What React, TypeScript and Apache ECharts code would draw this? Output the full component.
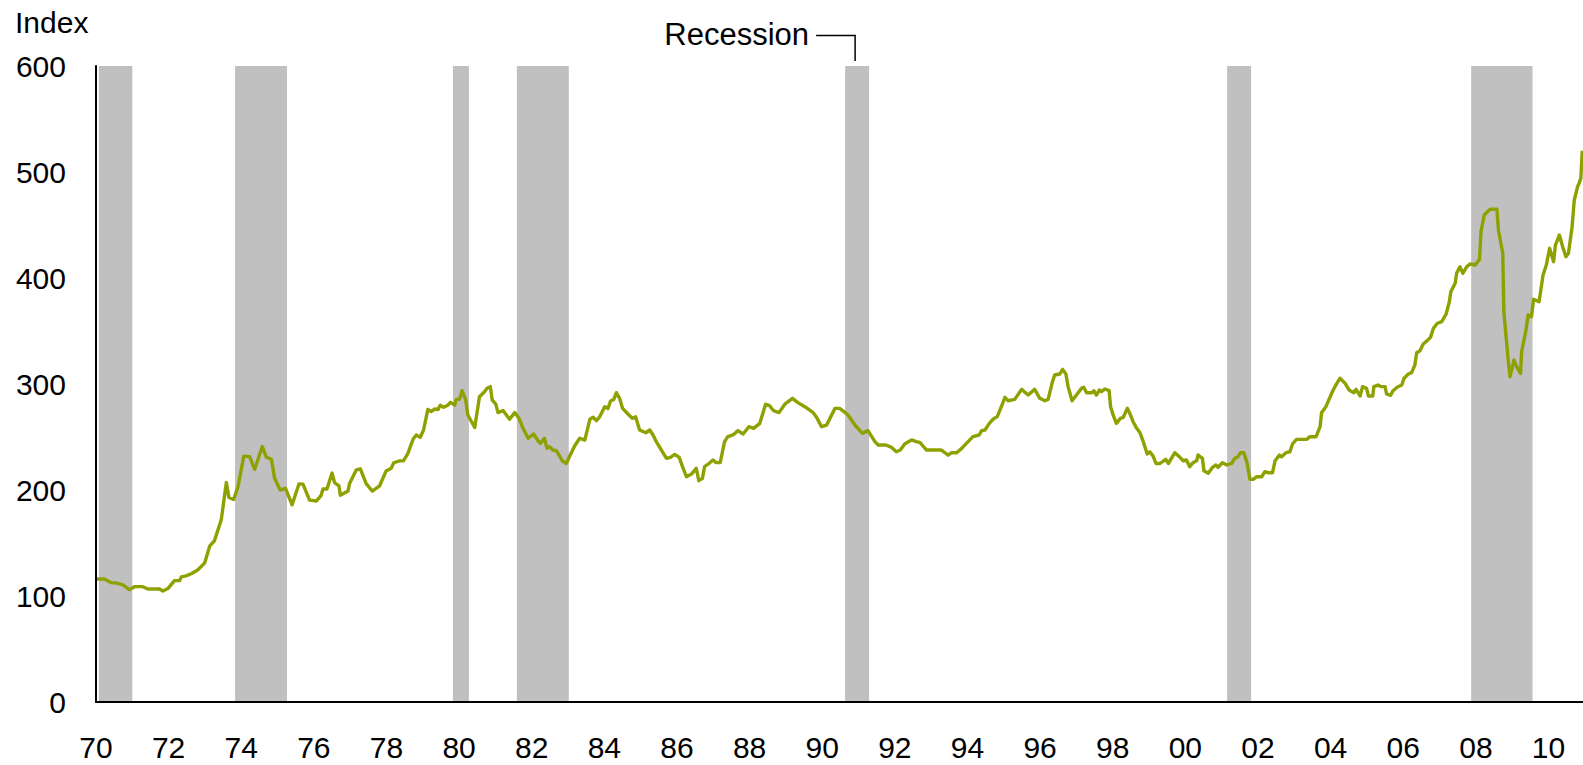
import React, { useEffect, useRef } from "react";
import * as echarts from "echarts";

// Decimal year of each reading, and the index value at that point
const years: number[] = [
  1970.0, 1970.23, 1970.42, 1970.6, 1970.74, 1970.92, 1971.06, 1971.29, 1971.43, 1971.75, 1971.84, 1971.98,
  1972.16, 1972.3, 1972.35, 1972.48, 1972.62, 1972.8, 1972.99, 1973.13, 1973.26, 1973.45, 1973.59, 1973.66,
  1973.79, 1973.91, 1974.07, 1974.23, 1974.37, 1974.58, 1974.69, 1974.83, 1974.92, 1975.07, 1975.22, 1975.4,
  1975.59, 1975.7, 1975.88, 1976.07, 1976.2, 1976.25, 1976.36, 1976.5, 1976.57, 1976.69, 1976.73, 1976.94,
  1976.98, 1977.17, 1977.28, 1977.44, 1977.61, 1977.81, 1977.99, 1978.13, 1978.2, 1978.36, 1978.47, 1978.59,
  1978.73, 1978.82, 1978.93, 1979.02, 1979.14, 1979.23, 1979.33, 1979.42, 1979.48, 1979.57, 1979.69, 1979.76,
  1979.88, 1979.92, 1980.01, 1980.08, 1980.18, 1980.24, 1980.43, 1980.56, 1980.7, 1980.77, 1980.86, 1980.91,
  1981.01, 1981.07, 1981.21, 1981.39, 1981.53, 1981.65, 1981.74, 1981.9, 1982.05, 1982.17, 1982.24, 1982.35,
  1982.42, 1982.49, 1982.58, 1982.68, 1982.84, 1982.95, 1983.06, 1983.18, 1983.32, 1983.46, 1983.6, 1983.69,
  1983.78, 1983.87, 1984.01, 1984.1, 1984.17, 1984.26, 1984.33, 1984.42, 1984.5, 1984.65, 1984.77, 1984.86,
  1984.97, 1985.14, 1985.25, 1985.34, 1985.43, 1985.57, 1985.71, 1985.82, 1985.94, 1986.06, 1986.17, 1986.26,
  1986.4, 1986.53, 1986.6, 1986.7, 1986.76, 1986.88, 1986.99, 1987.08, 1987.19, 1987.31, 1987.4, 1987.54,
  1987.68, 1987.82, 1987.98, 1988.11, 1988.28, 1988.44, 1988.55, 1988.66, 1988.81, 1988.97, 1989.18, 1989.33,
  1989.52, 1989.75, 1989.86, 1989.98, 1990.12, 1990.35, 1990.48, 1990.71, 1990.9, 1991.11, 1991.26, 1991.45,
  1991.54, 1991.75, 1991.91, 1992.04, 1992.15, 1992.27, 1992.46, 1992.59, 1992.7, 1992.87, 1993.15, 1993.28,
  1993.47, 1993.56, 1993.7, 1993.84, 1993.97, 1994.15, 1994.32, 1994.39, 1994.48, 1994.6, 1994.71, 1994.82,
  1994.96, 1995.03, 1995.12, 1995.3, 1995.49, 1995.67, 1995.85, 1995.99, 1996.13, 1996.22, 1996.34, 1996.4,
  1996.54, 1996.62, 1996.71, 1996.77, 1996.88, 1997.0, 1997.14, 1997.2, 1997.28, 1997.42, 1997.48, 1997.55,
  1997.63, 1997.69, 1997.78, 1997.9, 1997.94, 1998.01, 1998.1, 1998.21, 1998.29, 1998.4, 1998.47, 1998.56,
  1998.66, 1998.75, 1998.84, 1998.95, 1999.02, 1999.11, 1999.19, 1999.3, 1999.46, 1999.53, 1999.71, 1999.85,
  1999.94, 2000.03, 2000.12, 2000.21, 2000.31, 2000.35, 2000.47, 2000.51, 2000.63, 2000.75, 2000.84, 2000.9,
  2001.02, 2001.14, 2001.27, 2001.36, 2001.45, 2001.52, 2001.61, 2001.69, 2001.78, 2001.87, 2001.96, 2002.1,
  2002.19, 2002.28, 2002.4, 2002.47, 2002.59, 2002.65, 2002.77, 2002.88, 2002.95, 2003.06, 2003.34, 2003.43,
  2003.6, 2003.71, 2003.75, 2003.87, 2003.98, 2004.07, 2004.17, 2004.26, 2004.4, 2004.51, 2004.64, 2004.7,
  2004.81, 2004.88, 2004.99, 2005.04, 2005.16, 2005.19, 2005.31, 2005.38, 2005.5, 2005.54, 2005.65, 2005.72,
  2005.83, 2005.96, 2006.02, 2006.14, 2006.23, 2006.32, 2006.37, 2006.46, 2006.55, 2006.66, 2006.75, 2006.83,
  2006.94, 2007.06, 2007.18, 2007.27, 2007.31, 2007.43, 2007.47, 2007.56, 2007.64, 2007.75, 2007.84, 2007.98,
  2008.1, 2008.14, 2008.23, 2008.39, 2008.58, 2008.62, 2008.74, 2008.77, 2008.89, 2008.94, 2009.05, 2009.12,
  2009.23, 2009.26, 2009.38, 2009.44, 2009.53, 2009.59, 2009.74, 2009.85, 2009.94, 2010.03, 2010.14, 2010.19,
  2010.3, 2010.39, 2010.48, 2010.55, 2010.65, 2010.71, 2010.8, 2010.84, 2010.89, 2010.93,
];

const indexValues: number[] = [
  116, 116, 112.6, 112, 110.4, 106, 108.8, 108.8, 106.6, 106.6, 104.7, 107,
  114.5, 114.5, 118, 119, 121, 124.5, 131, 147, 152, 172, 207, 193,
  191, 203, 232, 231.5, 219.5, 241, 231, 229, 211, 200, 201.5, 186,
  205.7, 205.5, 190.5, 189.6, 195, 201, 201, 216, 207, 204, 195, 199,
  206, 219, 220, 206, 199, 204, 218, 220.5, 225.7, 227.5, 227.6, 234.6,
  247.8, 251.9, 249.7, 256.6, 276, 274, 276.4, 276, 280, 278, 280, 282.7,
  280, 285.5, 285.5, 293.7, 285, 270.8, 259, 288, 292.7, 295.9, 297.5, 285,
  281, 273, 275, 266.7, 273, 267.6, 259.7, 248.8, 252.8, 246.5, 244, 248.8,
  239.3, 240.9, 237.7, 237, 227.6, 225, 233, 241.5, 248.8, 247, 266.7, 268.6,
  265.4, 269, 278.6, 277, 284, 285.5, 291.8, 286.5, 277, 271.7, 267.6, 269,
  256.6, 254, 256.6, 251.9, 245.6, 237.7, 229.9, 230.8, 233.6, 230.8, 220.4, 212.5,
  215, 220.4, 208.8, 211, 222, 225, 228.3, 225.8, 225.8, 245.6, 250.3, 251.9,
  256, 252.8, 259.7, 258.2, 262.9, 280.8, 279.5, 274.8, 273, 281, 286.5, 282.4,
  278.6, 273, 267.6, 259.7, 261.3, 277, 277, 270.8, 261.3, 253.5, 256, 245.6,
  242.5, 242.5, 240.2, 236.1, 237.7, 243.4, 247.2, 245.6, 244.6, 237.7, 237.7, 237.7,
  233, 235.2, 235.2, 239.3, 244, 250.3, 251.9, 256, 256.6, 262.9, 267, 269.2,
  281, 287.4, 284.2, 285.5, 294.9, 289.6, 294.9, 286.5, 284.2, 285.5, 302.2, 308.5,
  309.4, 313.8, 309.4, 297.5, 284.2, 289.6, 295.9, 296.9, 291.8, 291.8, 293.7, 289.6,
  294.3, 292.8, 295.3, 293.7, 278.6, 270.8, 262.9, 267.6, 268.6, 277, 272.3, 264.4,
  258.2, 254, 245.6, 234, 236.1, 232, 225, 225, 229, 225, 235.2, 230.8,
  227.6, 228.3, 222, 225.8, 227.6, 233, 229.9, 218.2, 215.8, 221.4, 223.6, 221.4,
  225.8, 223.6, 225, 229.9, 231.4, 235.2, 235.2, 226.7, 210, 210, 212.5, 212.5,
  217.3, 216.3, 216.3, 227.6, 233, 231.4, 235.2, 236.1, 243.4, 247.8, 247.8, 250.3,
  250.3, 259.7, 273, 278.6, 287.4, 294.3, 300.6, 305.4, 300.6, 294.3, 291.8, 294.9,
  288.7, 297.5, 295.9, 288.7, 288.7, 297.5, 299, 297.5, 297.5, 290.6, 289.3, 293.7,
  296.9, 299, 305.4, 309.4, 310.7, 317.9, 329.5, 331.4, 337.7, 340.9, 344, 352.5,
  357.3, 358.8, 366, 377.6, 387, 395, 404.4, 410.7, 404.4, 410.7, 413.2, 412.3,
  417.6, 443.7, 459.4, 464.8, 464.8, 445.3, 423.3, 368.2, 322.6, 306.9, 322.6, 316.3,
  310, 330.5, 350.9, 365.1, 363.5, 379.9, 377.6, 402.8, 412.3, 428, 415.4, 431.1,
  440.6, 429.5, 420.1, 423.3, 448.4, 473.6, 486.1, 489.3, 494, 520,
];

// Recession periods (start, end) in decimal years
const recessionStarts: number[] = [1970.08, 1973.83, 1979.83, 1981.59, 1990.63, 2001.15, 2007.87];
const recessionEnds: number[] = [1971.0, 1975.26, 1980.27, 1983.02, 1991.29, 2001.81, 2009.56];

// Axis settings
const yTicks: number[] = [0, 100, 200, 300, 400, 500, 600];
const xMin = 1970;
const xMax = 2010.95;
const xStep = 2;

const FONT = "'Liberation Sans', Arial, Helvetica, sans-serif";
const LINE_COLOR = "#8ea100";
const SHADE_COLOR = "#c0c0c0";

export default function App() {
  const ref = useRef<HTMLDivElement>(null);

  useEffect(() => {
    if (!ref.current) return;
    const chart = echarts.init(ref.current, undefined, { renderer: "svg" });

    const lineData = years.map((y, i) => [y, indexValues[i]]);
    const shadeData = recessionStarts.map((s, i) => [s, recessionEnds[i], yTicks[yTicks.length - 1]]);

    const option: any = {
      animation: false,
      backgroundColor: "#ffffff",
      textStyle: { fontFamily: FONT },
      grid: { left: 96, right: 0, top: 66, bottom: 63, containLabel: false },
      xAxis: {
        type: "value",
        min: xMin,
        max: xMax,
        interval: xStep,
        z: 10,
        splitLine: { show: false },
        axisTick: { show: false },
        axisLine: { show: true, onZero: false, lineStyle: { color: "#000", width: 2 } },
        axisLabel: {
          show: true,
          color: "#000",
          fontSize: 30,
          fontFamily: FONT,
          margin: 30,
          showMaxLabel: false,
          formatter: (v: number) => {
            if (Math.abs(v - Math.round(v)) > 1e-6) return "";
            const yy = Math.round(v) % 100;
            return yy < 10 ? "0" + yy : String(yy);
          },
        },
      },
      yAxis: {
        type: "value",
        min: yTicks[0],
        max: yTicks[yTicks.length - 1],
        interval: 100,
        z: 10,
        splitLine: { show: false },
        axisTick: { show: false },
        axisLine: { show: true, lineStyle: { color: "#000", width: 2 } },
        axisLabel: { color: "#000", fontSize: 30, fontFamily: FONT, margin: 30 },
      },
      series: [
        {
          type: "custom",
          name: "Recession",
          silent: true,
          z: 1,
          data: shadeData,
          encode: { x: [0, 1], y: 2 },
          renderItem: (params: any, api: any) => {
            const p0 = api.coord([api.value(0), api.value(2)]);
            const p1 = api.coord([api.value(1), 0]);
            return {
              type: "rect",
              shape: { x: p0[0], y: p0[1], width: p1[0] - p0[0], height: p1[1] - p0[1] },
              style: { fill: SHADE_COLOR },
            };
          },
        },
        {
          type: "line",
          name: "Index",
          z: 3,
          data: lineData,
          showSymbol: false,
          symbol: "none",
          lineStyle: { color: LINE_COLOR, width: 3.4, join: "round" },
        },
      ],
    };

    chart.setOption(option);

    // Annotation: "Recession" label with leader to the 1990-91 recession bar
    const rIdx = 4;
    const bx = chart.convertToPixel({ xAxisIndex: 0 }, (recessionStarts[rIdx] + recessionEnds[rIdx]) / 2) as number;
    const topY = chart.convertToPixel({ yAxisIndex: 0 }, yTicks[yTicks.length - 1]) as number;

    chart.setOption({
      graphic: [
        {
          type: "text",
          left: 15,
          top: 7,
          style: { text: "Index", fontSize: 30, fontFamily: FONT, fill: "#000" },
        },
        {
          type: "text",
          x: bx - 48,
          y: 34.5,
          style: {
            text: "Recession",
            fontSize: 31,
            fontFamily: FONT,
            fill: "#000",
            align: "right",
            verticalAlign: "middle",
          },
        },
        {
          type: "polyline",
          shape: { points: [[bx - 41, 35.5], [bx - 2, 35.5], [bx - 2, topY - 5]] },
          style: { stroke: "#000", lineWidth: 1.5, fill: "none" },
        },
      ],
    });

    return () => chart.dispose();
  }, []);

  return (
    <div
      ref={ref}
      style={{ position: "absolute", left: 0, top: 0, width: 1583, height: 765, background: "#fff" }}
    />
  );
}
